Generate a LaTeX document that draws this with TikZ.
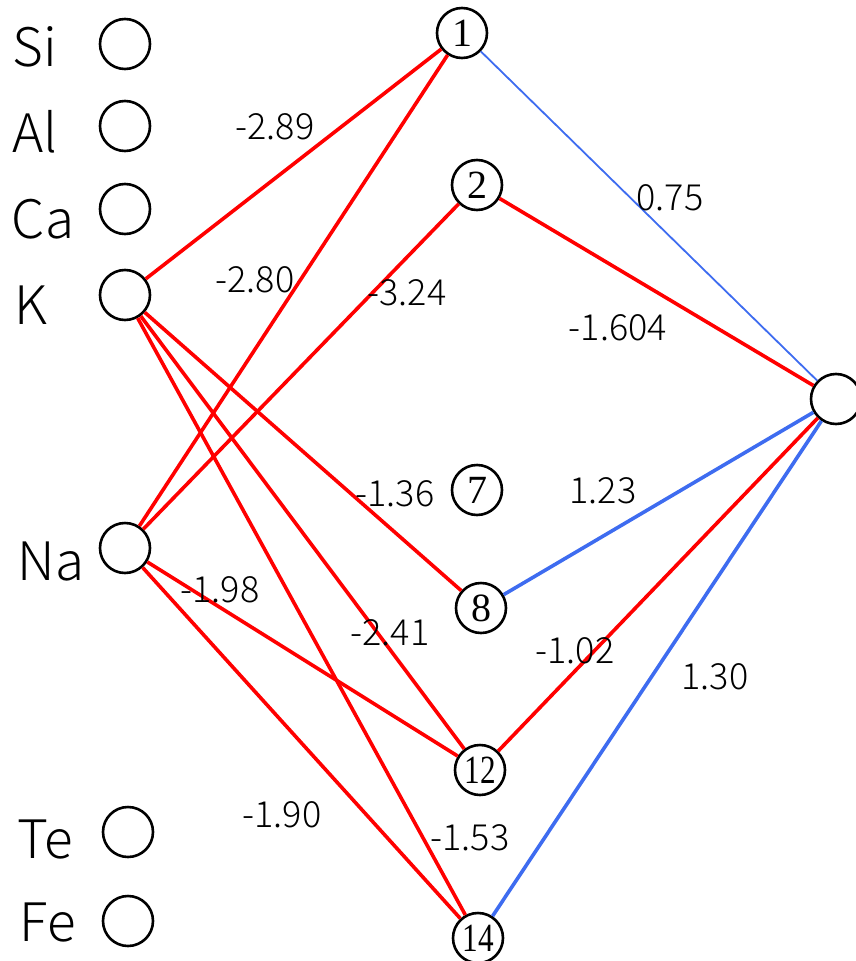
\documentclass[tikz,border=0pt]{standalone}
\usepackage{fontspec}
\usepackage{graphicx}
\usetikzlibrary{positioning,calc}
\IfFontExistsTF{Noto Sans CJK JP Light}
  {\newfontfamily\gothic{Noto Sans CJK JP Light}}
  {\newfontfamily\gothic{Noto Sans CJK JP}}
\newfontfamily\mincho{Liberation Serif}
\definecolor{NET-RED}{RGB}{255, 0, 0}
\definecolor{NET-BLUE}{RGB}{62, 108, 240}

\begin{document}
\begin{tikzpicture}[x=1pt, y=-1pt,
    unit/.style={circle, draw=black, line width=2.6pt, minimum size=50pt, inner sep=0pt,
      font=\mincho\fontsize{40}{40}\selectfont},
    elem/.style={font=\gothic\fontsize{53}{53}\selectfont},
    wlab/.style={font=\gothic\fontsize{36}{36}\selectfont},
    negwt/.style={NET-RED, line width=3.6pt},
    poswt/.style={NET-BLUE, line width=3.6pt}]
  \useasboundingbox (0,0) rectangle (855,961);

  % Input layer
  \node[unit] (si) at (125,44) {};
  \node[unit] (al) at (125,126) {};
  \node[unit] (ca) at (125,209) {};
  \node[unit] (k) at (125,295) {};
  \node[unit] (na) at (125,548) {};
  \node[unit] (te) at (128,832) {};
  \node[unit] (fe) at (128,921) {};
  \node[elem] (si-t) at (35,47) {Si};
  \node[elem] (al-t) at (35,132) {Al};
  \node[elem] (ca-t) at (43,219) {Ca};
  \node[elem] (k-t) at (31,305) {K};
  \node[elem] (na-t) at (51,562) {Na};
  \node[elem] (te-t) at (45,840) {Te};
  \node[elem] (fe-t) at (48,923) {Fe};

  % Hidden layer
  \node[unit] (h1) at (462,33) {1};
  \node[unit] (h2) at (477,185) {2};
  \node[unit] (h7) at (477,490) {7};
  \node[unit] (h8) at (481,608) {8};
  \node[unit] (h12) at (480,770) {\scalebox{0.78}[1]{12}};
  \node[unit] (h14) at (478,938) {\scalebox{0.78}[1]{14}};

  % Output
  \node[unit] (out) at (836,399) {};

  % Input -> hidden
  \draw[negwt] (k) -- (h1);
  \draw[negwt] (na) -- (h1);
  \draw[negwt] (na) -- (h2);
  \draw[negwt] (k) -- (h8);
  \draw[negwt] (k) -- (h12);
  \draw[negwt] (k) -- (h14);
  \draw[negwt] (na) -- (h12);
  \draw[negwt] (na) -- (h14);

  % Hidden -> output
  \draw[NET-BLUE, line width=1.8pt] (h1) -- (out);
  \draw[negwt] (h2) -- (out);
  \draw[poswt] (h8) -- (out);
  \draw[negwt] (h12) -- (out);
  \draw[poswt] (h14) -- (out);

  % Weights
  \node[wlab] (w-k1) at (275,127) {-2.89};
  \node[wlab] (w-na1) at (255,280) {-2.80};
  \node[wlab] (w-na2) at (407,293) {-3.24};
  \node[wlab] (w-1o) at (670,198) {0.75};
  \node[wlab] (w-2o) at (618,328) {-1.604};
  \node[wlab] (w-k8) at (395,494) {-1.36};
  \node[wlab] (w-8o) at (603,491) {1.23};
  \node[wlab] (w-na12) at (220,590) {-1.98};
  \node[wlab] (w-k12) at (390,633) {-2.41};
  \node[wlab] (w-12o) at (575,651) {-1.02};
  \node[wlab] (w-14o) at (715,677) {1.30};
  \node[wlab] (w-na14) at (282,815) {-1.90};
  \node[wlab] (w-k14) at (470,838) {-1.53};
\end{tikzpicture}
\end{document}
